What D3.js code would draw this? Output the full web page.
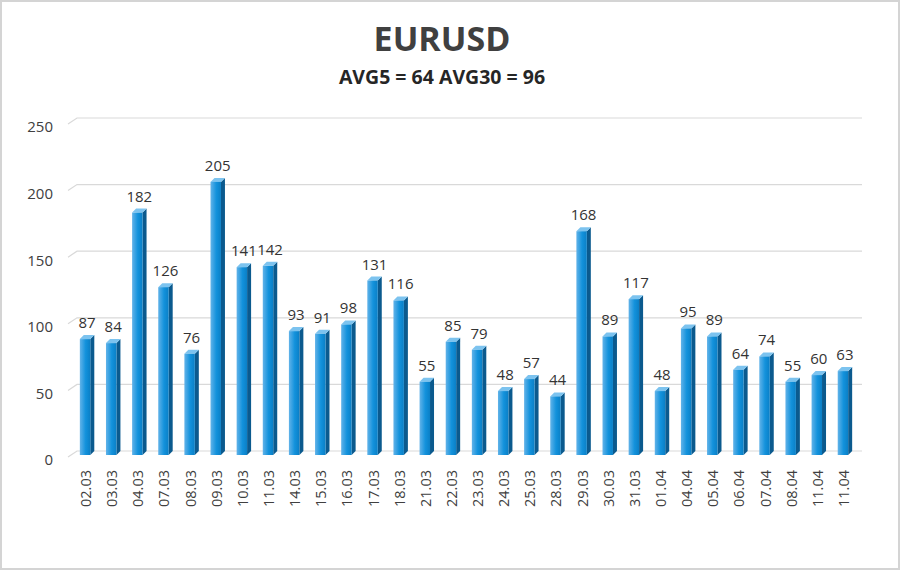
<!DOCTYPE html>
<html><head><meta charset="utf-8">
<script src="https://cdn.jsdelivr.net/npm/d3@7"></script>
<style>html,body{margin:0;padding:0;background:#fff}svg{display:block}</style>
</head><body>
<svg id="c" width="900" height="570"></svg>
<script>
const categories = ["02.03","03.03","04.03","07.03","08.03","09.03","10.03","11.03","14.03","15.03","16.03","17.03","18.03","21.03","22.03","23.03","24.03","25.03","28.03","29.03","30.03","31.03","01.04","04.04","05.04","06.04","07.04","08.04","11.04","11.04"];
const values = [87,84,182,126,76,205,141,142,93,91,98,131,116,55,85,79,48,57,44,168,89,117,48,95,89,64,74,55,60,63];
const yTicks = [0,50,100,150,200,250];
const title = "EURUSD";
const subtitle = "AVG5 = 64 AVG30 = 96";

const svg = d3.select("#c");
const font = "'Open Sans', 'DejaVu Sans', sans-serif";
const defs = svg.append("defs");
const g1 = defs.append("linearGradient").attr("id","front").attr("x1","0").attr("x2","1").attr("y1","0").attr("y2","0");
g1.append("stop").attr("offset","0").attr("stop-color","#62b3e9");
g1.append("stop").attr("offset","0.55").attr("stop-color","#1392dc");
g1.append("stop").attr("offset","1").attr("stop-color","#0a7fc6");

svg.append("rect").attr("x",1).attr("y",1).attr("width",898).attr("height",568)
  .attr("fill","#fff").attr("stroke","#d4d4d4").attr("stroke-width",2);

const x = d3.scaleBand().domain(d3.range(categories.length)).range([72,856]).paddingInner(0.6).paddingOuter(0.3);
const y = d3.scaleLinear().domain([0,250]).range([455,122]);
const dx = 4, dy = 4;

// gridlines (back wall) with floor diagonal
const grid = svg.append("g");
yTicks.forEach(t=>{
  const yy = y(t);
  grid.append("path").attr("d",`M68,${yy+2}L77,${yy-4}L862,${yy-4}`)
    .attr("fill","none").attr("stroke","#d9d9d9").attr("stroke-width",1.2);
});

// y axis labels
const yAxis = d3.axisLeft(y).tickValues(yTicks).tickSize(0).tickPadding(0);
const ya = svg.append("g").attr("transform","translate(53,5)").call(yAxis);
ya.select(".domain").remove();
ya.selectAll("text").attr("font-family",font).attr("font-size",15).attr("fill","#404040").attr("dy","0.32em");

// bars
const bars = svg.append("g");
values.forEach((v,i)=>{
  const x0 = x(i), w = x.bandwidth(), yt = y(v), yb = y(0);
  bars.append("path").attr("d",`M${x0+w},${yt}L${x0+w+dx},${yt-dy}L${x0+w+dx},${yb-dy}L${x0+w},${yb}Z`).attr("fill","#0b5a8e");
  bars.append("path").attr("d",`M${x0},${yt}L${x0+dx},${yt-dy}L${x0+w+dx},${yt-dy}L${x0+w},${yt}Z`).attr("fill","#7cc3ef");
  bars.append("rect").attr("x",x0).attr("y",yt).attr("width",w).attr("height",yb-yt).attr("fill","url(#front)");
  bars.append("text").attr("x",x0+w/2+2).attr("y",yt-11).attr("text-anchor","middle")
    .attr("font-family",font).attr("font-size",15).attr("fill","#333").text(v);
});

// x axis labels rotated
const xl = svg.append("g");
categories.forEach((c,i)=>{
  const cx = x(i)+x.bandwidth()/2+1;
  xl.append("text").attr("transform",`translate(${cx+5},470) rotate(-90)`).attr("text-anchor","end")
    .attr("font-family",font).attr("font-size",14.5).attr("fill","#404040").text(c);
});

svg.append("text").attr("x",442).attr("y",51).attr("text-anchor","middle")
  .attr("font-family",font).attr("font-weight","bold").attr("font-size",34).attr("fill","#404040").text(title);
svg.append("text").attr("x",442).attr("y",84).attr("text-anchor","middle")
  .attr("font-family",font).attr("font-weight","bold").attr("font-size",19.5).attr("fill","#262626").text(subtitle);
</script>
</body></html>
